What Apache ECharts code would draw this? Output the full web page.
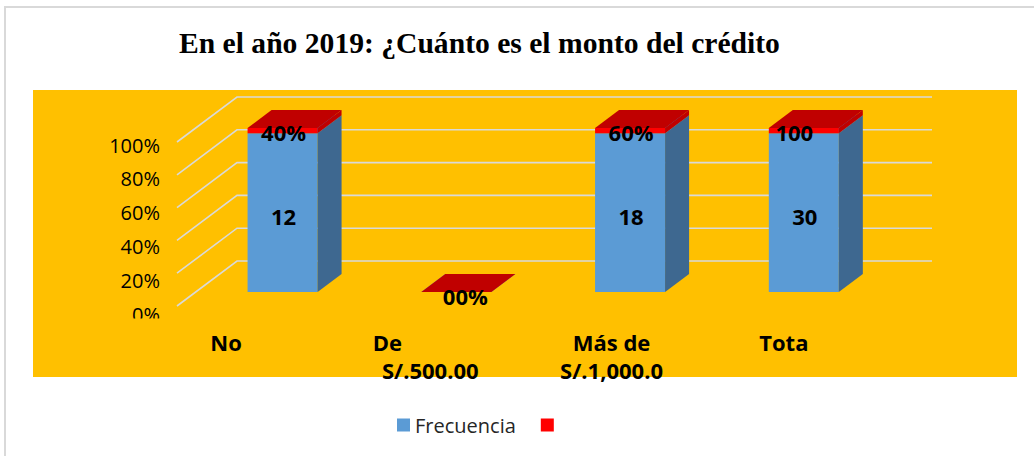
<!DOCTYPE html>
<html>
<head>
<meta charset="utf-8">
<script src="https://cdn.jsdelivr.net/npm/echarts@6/dist/echarts.min.js"></script>
<style>
html,body{margin:0;padding:0;background:#fff;}
#chart{width:1034px;height:456px;}
</style>
</head>
<body>
<div id="chart"></div>
<script>
// ---- data ----
const categories = ['No', 'De\nS/.500.00', 'Más de\nS/.1,000.0', 'Tota'];
const frecuencia = [12, 0, 18, 30];
const porcentaje = [0.4, 0, 0.6, 1.0];
const porcentajeLabels = ['40%', '00%', '60%', '100'];
const yTicks = [0, 0.2, 0.4, 0.6, 0.8, 1.0];
const yTickLabels = ['0%', '20%', '40%', '60%', '80%', '100%'];

// ---- layout / style constants ----
const DEPTH = [24, -18];        // bar depth offset
const BACK = [41.3, -31];       // back wall offset from bar plane
const FRONT = [-18.7, 14];      // front floor edge offset from bar plane
const catLabelDx = [[-56.5], [-69, -26], [-18.5, -18.5], [-20]];
const FONT = '"Open Sans", Lato, sans-serif';

// 100% stacked fractions
const totals = frecuencia.map((f, i) => f + porcentaje[i]);
const blueData = frecuencia.map((f, i) => [i, 0, totals[i] ? f / totals[i] : 0, f]);
const redData = porcentaje.map((p, i) => {
  const lo = totals[i] ? frecuencia[i] / totals[i] : 0;
  const hi = totals[i] ? 1 : 0;
  return [i, lo, hi, p];
});

function barRender(colors, labelFn) {
  return function (params, api) {
    const i = api.value(0);
    const cx = api.coord([i, 0])[0];
    const y0 = api.coord([i, api.value(1)])[1];
    const y1 = api.coord([i, api.value(2)])[1];
    const w = api.size([1, 0])[0] * 0.403;
    const xl = cx - w / 2, xr = cx + w / 2;
    const [dx, dy] = DEPTH;
    const children = [
      { type: 'rect', shape: { x: xl, y: y1, width: w, height: y0 - y1 }, style: { fill: colors.front } },
      { type: 'polygon', shape: { points: [[xr, y1], [xr + dx, y1 + dy], [xr + dx, y0 + dy], [xr, y0]] }, style: { fill: colors.side } },
      { type: 'polygon', shape: { points: [[xl, y1], [xr, y1], [xr + dx, y1 + dy], [xl + dx, y1 + dy]] }, style: { fill: colors.top } }
    ];
    const lab = labelFn(params.dataIndex, cx, y0, y1);
    if (lab) children.push(lab);
    return { type: 'group', children };
  };
}

const chart = echarts.init(document.getElementById('chart'), null, { renderer: 'svg' });

const option = {
  backgroundColor: '#ffffff',
  animation: false,
  title: {
    text: 'En el año 2019: ¿Cuánto es el monto del crédito',
    left: 174,
    top: 23,
    textStyle: { fontFamily: '"Liberation Serif", "Times New Roman", serif', fontWeight: 'bold', fontSize: 29.6, color: '#000' }
  },
  graphic: [
    { type: 'rect', z: -10, silent: true, shape: { x: 5, y: 7, width: 1040, height: 460 }, style: { fill: '#fff', stroke: '#D9D9D9', lineWidth: 2 } },
    { type: 'rect', z: -9, silent: true, shape: { x: 33, y: 90, width: 984, height: 287 }, style: { fill: '#FFC000' } }
  ],
  legend: {
    left: 392,
    top: 410,
    itemWidth: 13,
    itemHeight: 13,
    itemGap: 25,
    textStyle: { fontFamily: FONT, fontSize: 20, color: '#262626' },
    data: [
      { name: 'Frecuencia', icon: 'rect', itemStyle: { color: '#5B9BD5' } },
      { name: ' ', icon: 'rect', itemStyle: { color: '#FF0000' } }
    ]
  },
  grid: { left: 195.7, right: 143.3, top: 128, bottom: 164 },
  xAxis: {
    type: 'category',
    data: categories,
    axisLine: { show: false }, axisTick: { show: false }, axisLabel: { show: false }, splitLine: { show: false }
  },
  yAxis: {
    type: 'value', min: 0, max: 1, interval: 0.2,
    axisLine: { show: false }, axisTick: { show: false }, axisLabel: { show: false }, splitLine: { show: false }
  },
  series: [
    {
      name: 'grid-lines',
      type: 'custom',
      clip: false,
      silent: true,
      z: 1,
      data: yTicks.map(v => [0, v]),
      encode: { x: 0, y: 1 },
      renderItem: function (params, api) {
        const cs = params.coordSys;
        const v = api.value(1);
        const yb = api.coord([0, v])[1];
        const L = cs.x, R = cs.x + cs.width;
        return {
          type: 'group',
          children: [
            {
              type: 'polyline',
              shape: { points: [[L + FRONT[0], yb + FRONT[1]], [L + BACK[0], yb + BACK[1]], [R + BACK[0], yb + BACK[1]]] },
              style: { stroke: '#D9D9D9', lineWidth: 1.6, fill: null }
            },
            {
              type: 'text',
              clipPath: { type: 'rect', shape: { x: 0, y: 0, width: 200, height: 318.5 } },
              style: {
                text: yTickLabels[params.dataIndex],
                x: L - 35.7, y: yb + 17 + (1 - v) * 5.5,
                align: 'right', verticalAlign: 'middle',
                font: '20px ' + FONT, fill: '#000'
              }
            }
          ]
        };
      }
    },
    {
      name: 'Frecuencia',
      type: 'custom',
      clip: false,
      z: 3,
      itemStyle: { color: '#5B9BD5' },
      data: blueData,
      encode: { x: 0, y: [1, 2] },
      renderItem: barRender({ front: '#5B9BD5', side: '#3E6890', top: '#4F86B8' }, function (i, cx, y0, y1) {
        if (!frecuencia[i]) return null;
        return {
          type: 'text', z2: 10,
          style: { text: String(frecuencia[i]), x: cx + 1, y: (y0 + y1) / 2 + 3, align: 'center', verticalAlign: 'middle', font: 'bold 22px ' + FONT, fill: '#000' }
        };
      })
    },
    {
      name: ' ',
      type: 'custom',
      clip: false,
      z: 4,
      itemStyle: { color: '#FF0000' },
      data: redData,
      encode: { x: 0, y: [1, 2] },
      renderItem: barRender({ front: '#FF0000', side: '#C00000', top: '#C00000' }, function (i, cx, y0, y1) {
        const txt = porcentajeLabels[i];
        let x = cx + 1;
        if (totals[i] === 0) x = cx + 9;
        if (!txt.endsWith('%')) x = cx - 9.5;
        return {
          type: 'text', z2: 10,
          style: { text: txt, x: x, y: y1 + 4, align: 'center', verticalAlign: 'middle', font: 'bold 22px ' + FONT, fill: '#000' }
        };
      })
    },
    {
      name: 'cat-labels',
      type: 'custom',
      clip: false,
      silent: true,
      z: 5,
      data: categories.map((c, i) => [i, 0]),
      encode: { x: 0, y: 1 },
      renderItem: function (params, api) {
        const i = params.dataIndex;
        const cx = api.coord([i, 0])[0];
        const lines = categories[i].split('\n');
        return {
          type: 'group',
          children: lines.map((t, k) => ({
            type: 'text',
            style: {
              text: t, x: cx + catLabelDx[i][k], y: 341.5 + k * 28.5,
              align: 'center', verticalAlign: 'middle',
              font: 'bold 22px ' + FONT, fill: '#000'
            }
          }))
        };
      }
    }
  ]
};
chart.setOption(option);
</script>
</body>
</html>
